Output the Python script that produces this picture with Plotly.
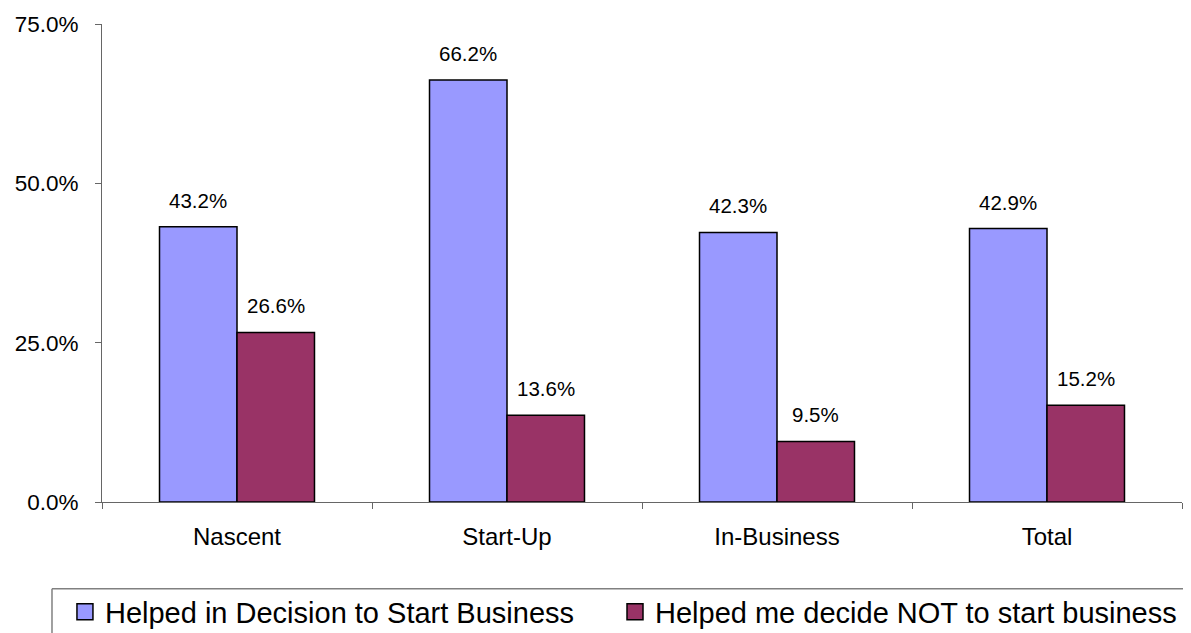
import plotly.graph_objects as go

categories = ["Nascent", "Start-Up", "In-Business", "Total"]
helped_start = [0.432, 0.662, 0.423, 0.429]
helped_not = [0.266, 0.136, 0.095, 0.152]
series_names = ["Helped in Decision to Start Business", "Helped me decide NOT to start business"]
colors = ["#9999FF", "#993366"]

fig = go.Figure()
for name, vals, col in zip(series_names, [helped_start, helped_not], colors):
    fig.add_trace(go.Bar(
        x=categories, y=vals, name=name, showlegend=False,
        marker=dict(color=col, line=dict(color="black", width=1.5)),
    ))
# legend entries with larger square swatches (one legend box per entry)
for name, col, lg in zip(series_names, colors, ["legend", "legend2"]):
    fig.add_trace(go.Scatter(
        x=[None], y=[None], mode="markers", name=name, legend=lg,
        marker=dict(symbol="square", size=16, color=col, line=dict(color="black", width=1.5)),
    ))

bargap = 0.426
half = (1 - bargap) / 4
for vals, sign in [(helped_start, -1), (helped_not, 1)]:
    for i, v in enumerate(vals):
        fig.add_annotation(x=i + sign * half, y=v, text=f"{v*100:.1f}%",
                           showarrow=False, yanchor="bottom", yshift=13,
                           font=dict(size=20.5, color="black"))

# legend frame: top and left edges (the rest lies beyond the picture edges)
frame = dict(color="#808080", width=1.5)
fig.add_shape(type="line", xref="paper", yref="paper",
              x0=-0.0463, x1=1.3, y0=-0.1816, y1=-0.1816, line=frame)
fig.add_shape(type="line", xref="paper", yref="paper",
              x0=-0.0463, x1=-0.0463, y0=-0.1816, y1=-0.6, line=frame)

legend_common = dict(orientation="h", xanchor="left", yref="container", y=0.0744,
                     yanchor="top", borderwidth=0, font=dict(size=29),
                     bgcolor="rgba(0,0,0,0)", itemwidth=30)

fig.update_layout(
    width=1183, height=625,
    margin=dict(l=94, r=9, t=16, b=131),
    paper_bgcolor="white", plot_bgcolor="white",
    barmode="group", bargap=bargap, bargroupgap=0,
    font=dict(family="Liberation Sans, Arial, sans-serif", size=20, color="black"),
    showlegend=True,
    legend=dict(x=-0.0343, **legend_common),
    legend2=dict(x=0.475, **legend_common),
)
fig.update_xaxes(showline=True, linecolor="#666", linewidth=1, ticks="outside",
                 tickson="boundaries", ticklen=6, tickcolor="#666",
                 tickfont=dict(size=24), showgrid=False, automargin=False,
                 ticklabelstandoff=13)
fig.update_yaxes(range=[0, 0.75], dtick=0.25, tickformat=".1%", showline=True,
                 linecolor="#666", linewidth=1, ticks="outside", ticklen=6,
                 tickcolor="#666", showgrid=False, zeroline=False,
                 tickfont=dict(size=22.5), automargin=False, ticklabelstandoff=12)

fig.write_html("out.html")
